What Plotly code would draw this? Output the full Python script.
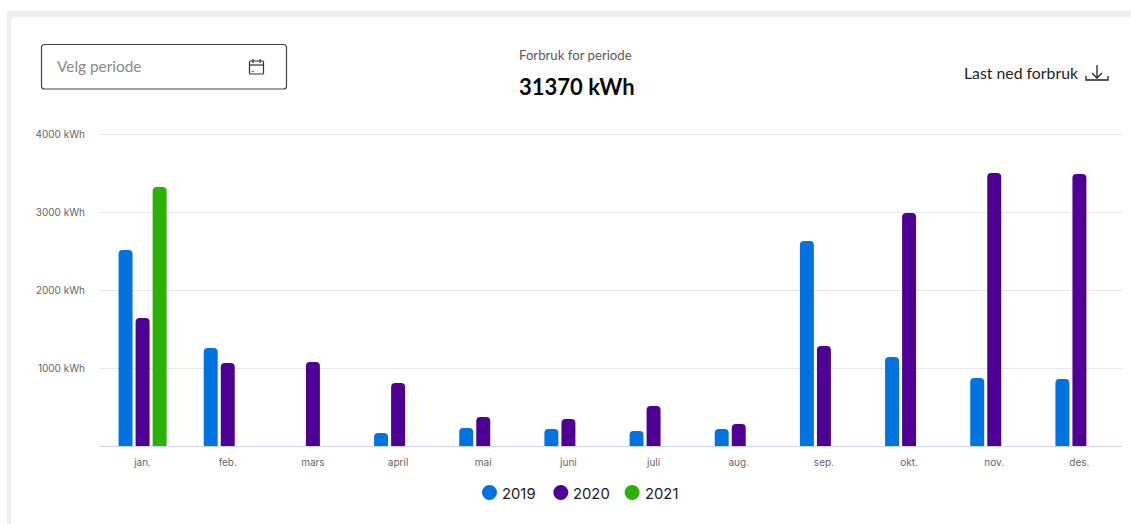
import plotly.graph_objects as go

months = ["jan.", "feb.", "mars", "april", "mai", "juni", "juli", "aug.", "sep.", "okt.", "nov.", "des."]
v2019 = [2513, 1256, None, 167, 231, 218, 192, 218, 2628, 1141, 872, 859]
v2020 = [1640, 1064, 1077, 808, 372, 346, 513, 282, 1282, 2987, 3500, 3487]
v2021 = [3320, None, None, None, None, None, None, None, None, None, None, None]
series_names = ["2019", "2020", "2021"]
series_colors = ["#0073E0", "#4F0094", "#2BB00A"]
y_ticks = [1000, 2000, 3000, 4000]
y_tick_labels = ["1000 kWh", "2000 kWh", "3000 kWh", "4000 kWh"]

W, H = 1131, 524
L, R, T, B = 100, 9, 132, 78
Y_MAX = (H - B - T) / 0.078
px = lambda x: (x - L) / (W - L - R)
py = lambda y: 1 - (y - T) / (H - T - B)

fig = go.Figure()
for name, vals, color in zip(series_names, [v2019, v2020, v2021], series_colors):
    fig.add_bar(x=months, y=vals, name=name, marker=dict(color=color, cornerradius=4, line=dict(width=0)),
                showlegend=False)


def rect(x0, y0, x1, y1, **kw):
    return dict(type="rect", xref="paper", yref="paper", x0=px(x0), x1=px(x1), y0=py(y0), y1=py(y1), layer="below", **kw)


def path(points, color="#222222", width=1.3):
    d = "M " + " L ".join(f"{px(a):.5f},{py(b):.5f}" for a, b in points)
    return dict(type="path", xref="paper", yref="paper", path=d, line=dict(color=color, width=width), layer="above")


def rounded(x0, y0, x1, y1, r):
    c = lambda a, b: f"{px(a):.5f},{py(b):.5f}"
    return (f"M {c(x0 + r, y0)} L {c(x1 - r, y0)} Q {c(x1, y0)} {c(x1, y0 + r)} L {c(x1, y1 - r)} "
            f"Q {c(x1, y1)} {c(x1 - r, y1)} L {c(x0 + r, y1)} Q {c(x0, y1)} {c(x0, y1 - r)} "
            f"L {c(x0, y0 + r)} Q {c(x0, y0)} {c(x0 + r, y0)} Z")


shapes = [
    rect(7, 11, W, H, fillcolor="#EEEEEE", line=dict(width=0)),
    dict(type="path", xref="paper", yref="paper", layer="below", path=rounded(11, 17, W + 10, H + 10, 5),
         fillcolor="#FFFFFF", line=dict(width=0)),
    dict(type="path", xref="paper", yref="paper", layer="below", path=rounded(41.5, 44.5, 286.5, 89, 3),
         fillcolor="#FFFFFF", line=dict(color="#444444", width=1.2)),
    # calendar icon
    dict(type="path", xref="paper", yref="paper", path=rounded(249.5, 61, 263.5, 74, 1),
         fillcolor="rgba(0,0,0,0)", line=dict(color="#333333", width=1.2)),
    path([(249.5, 65), (263.5, 65)], "#333333", 1.2),
    path([(253, 59), (253, 63)], "#333333", 1.2),
    path([(260, 59), (260, 63)], "#333333", 1.2),
    path([(251.5, 71.5), (254, 71.5)], "#777777", 1.2),
    # download icon
    path([(1097, 65), (1097, 78)]),
    path([(1092, 73), (1097, 78), (1102, 73)]),
    path([(1086, 76), (1086, 80), (1108, 80), (1108, 76)]),
]

F = "Inter, Lato, sans-serif"
H_FONT = "Lato, sans-serif"


def note(x, y, text, size, color, anchor="left", font=F):
    return dict(xref="paper", yref="paper", x=px(x), y=py(y), text=text, showarrow=False, xanchor=anchor,
                yanchor="middle", font=dict(size=size, color=color, family=font), xshift=-2)


annotations = [
    note(57, 65.5, "Velg periode", 15.4, "#8A8A8A", font=H_FONT),
    note(519, 55, "Forbruk for periode", 13.2, "#5A5A5A", font=H_FONT),
    note(519, 86, "<b>31370 kWh</b>", 22, "#0A0A0A", font=H_FONT),
    note(964, 73, "Last ned forbruk", 15.8, "#222222", font=H_FONT),
]

# legend row with round swatches placed close to their labels
for i, (name, color) in enumerate(zip(series_names, series_colors)):
    cx = 489.5 + 71.3 * i
    shapes.append(dict(type="circle", xref="paper", yref="paper", x0=px(cx - 7.5), x1=px(cx + 7.5),
                       y0=py(500), y1=py(485), fillcolor=color, line=dict(width=0), layer="above"))
    annotations.append(note(cx + 12.5, 493.5, name, 14.8, "#222222", font="Inter, sans-serif"))

fig.update_layout(
    width=W, height=H, autosize=False,
    margin=dict(l=L, r=R, t=T, b=B, pad=0),
    paper_bgcolor="#FFFFFF", plot_bgcolor="rgba(0,0,0,0)",
    barmode="group", bargap=0.4, bargroupgap=0.18,
    shapes=shapes, annotations=annotations,
    font=dict(family=F),
    hovermode=False, showlegend=False,
    xaxis=dict(type="category", showgrid=False, showline=True, linecolor="#CCD6EB", linewidth=1,
               ticks="", ticklabelstandoff=7, tickfont=dict(size=10, color="#666666", family=F),
               range=[-0.5, 11.5], zeroline=False),
    yaxis=dict(range=[0, Y_MAX], tickvals=y_ticks, ticktext=y_tick_labels, showgrid=True, gridcolor="#E6E6E6",
               gridwidth=1, zeroline=False, showline=False, ticks="", ticklabelstandoff=14,
               tickfont=dict(size=10, color="#666666", family=F)),
)
fig.write_html("out.html", config=dict(displayModeBar=False),
               post_script="document.body.style.margin='0';document.documentElement.style.overflow='hidden';")
